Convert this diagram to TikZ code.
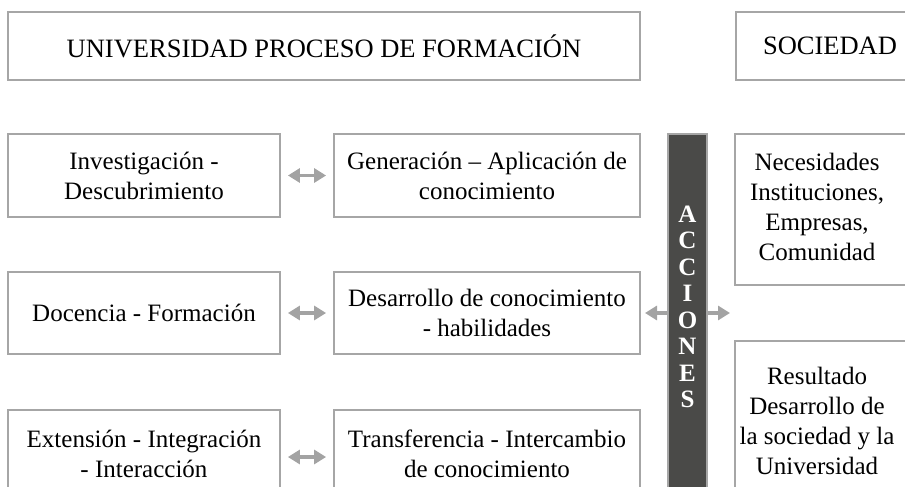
\documentclass[tikz,border=0pt]{standalone}
\usepackage{fontspec}
\setmainfont{Liberation Serif}
\usetikzlibrary{arrows.meta}
\definecolor{boxgray}{HTML}{A6A6A6}
\definecolor{arrgray}{HTML}{A3A3A3}
\definecolor{bardark}{HTML}{4A4A48}
\tikzset{
  box/.style={draw=boxgray, line width=1.8pt, rectangle, inner sep=0pt, align=center,
    font=\fontsize{25}{30}\selectfont},
  txt/.style={inner sep=0pt, align=center, font=\fontsize{25}{30}\selectfont},
  dbl/.style={draw=arrgray, line width=3.5pt, {Triangle[length=12pt,width=14pt]}-{Triangle[length=12pt,width=14pt]}, shorten <=7pt, shorten >=7pt},
  sgl/.style={draw=arrgray, line width=3.5pt, -{Triangle[length=12pt,width=14pt]}},
}
\begin{document}
\begin{tikzpicture}[x=1pt, y=-1pt]
\useasboundingbox (0,0) rectangle (905,487);
% top row
\node[box, minimum width=632pt, minimum height=68pt, font=\fontsize{26.5}{30}\selectfont] (title) at (324,46) {UNIVERSIDAD PROCESO DE FORMACIÓN};
\node[box, minimum width=188pt, minimum height=68pt, font=\fontsize{26.5}{30}\selectfont] (soc) at (830,46) {SOCIEDAD};
% left column
\node[box, minimum width=272pt, minimum height=83pt] (inv) at (144,175.5) {Investigación -\\Descubrimiento};
\node[box, minimum width=272pt, minimum height=82pt] (doc) at (144,313) {Docencia - Formación};
\node[box, minimum width=272pt, minimum height=88pt] (ext) at (144,454) {Extensión - Integración\\- Interacción};
% middle column
\node[box, minimum width=306pt, minimum height=83pt] (gen) at (487,175.5) {Generación – Aplicación de\\conocimiento};
\node[box, minimum width=306pt, minimum height=82pt] (des) at (487,313) {Desarrollo de conocimiento\\- habilidades};
\node[box, minimum width=306pt, minimum height=88pt] (tra) at (487,454) {Transferencia - Intercambio\\de conocimiento};
% bar
\node[draw=boxgray, line width=1.5pt, fill=bardark, rectangle, minimum width=39pt, minimum height=386pt, inner sep=0pt] (acc) at (687.5,327) {};
\node[inner sep=0pt, align=center, text=white, font=\bfseries\fontsize{25}{26.5}\selectfont] (acct) at (687.5,307) {A\\C\\C\\I\\O\\N\\E\\S};
% right column
\node[box, minimum width=180pt, minimum height=151pt] (nec) at (825,209.5) {};
\node[txt] (nect) at (817,207) {Necesidades\\Instituciones,\\Empresas,\\Comunidad};
\node[box, minimum width=180pt, minimum height=170pt] (res) at (825,426) {};
\node[txt] (rest) at (817,421) {Resultado\\Desarrollo de\\la sociedad y la\\Universidad};
% arrows
\draw[dbl] (inv.east) -- (gen.west);
\draw[dbl] (doc.east) -- (des.west);
\draw[dbl] ([yshift=-3pt]ext.east) -- ([yshift=-3pt]tra.west);
\coordinate (la) at (645,313);
\coordinate (ra) at (730,313);
\draw[sgl] (acc.west |- la) -- (la);
\draw[sgl] (acc.east |- ra) -- (ra);
\end{tikzpicture}
\end{document}
